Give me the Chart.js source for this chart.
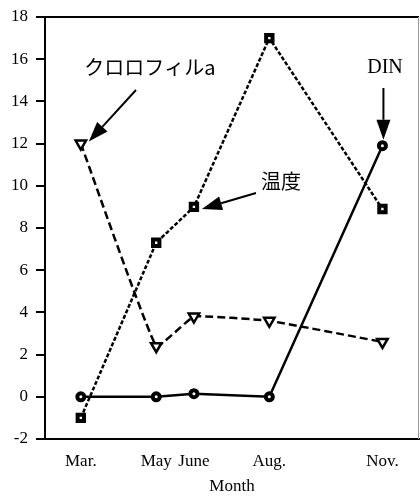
<!DOCTYPE html>
<html>
<head>
<meta charset="utf-8">
<script src="https://cdn.jsdelivr.net/npm/chart.js@4/dist/chart.umd.min.js"></script>
<style>
  html, body { margin: 0; padding: 0; background: #fff; }
  #wrap { width: 420px; height: 497px; }
</style>
</head>
<body>
<div id="wrap"><canvas id="c" width="420" height="497"></canvas></div>
<script>
// Sampling months (month number) and their axis labels
const months = [3, 5, 6, 8, 11];
const monthLabels = ['Mar.', 'May', 'June', 'Aug.', 'Nov.'];

// Measured series
const chlA = [12.0, 2.4, 3.8, 3.6, 2.6];          // クロロフィルa
const temperature = [-1.0, 7.3, 9.0, 17.0, 8.9];  // 温度
const din = [0.0, 0.0, 0.15, 0.0, 11.9];           // DIN

const serif = 'Liberation Serif, Times New Roman, serif';
const jp = '"Noto Sans CJK JP", sans-serif';

const toPoints = vals => months.map((m, i) => ({ x: m, y: vals[i] }));

function arrow(ctx, x0, y0, x1, y1, len, wid) {
  const ang = Math.atan2(y1 - y0, x1 - x0);
  const bx = x1 - len * Math.cos(ang), by = y1 - len * Math.sin(ang);
  ctx.beginPath();
  ctx.moveTo(x0, y0);
  ctx.lineTo(bx, by);
  ctx.stroke();
  const nx = -Math.sin(ang) * wid / 2, ny = Math.cos(ang) * wid / 2;
  ctx.beginPath();
  ctx.moveTo(x1, y1);
  ctx.lineTo(bx + nx, by + ny);
  ctx.lineTo(bx - nx, by - ny);
  ctx.closePath();
  ctx.fill();
}

// Frame and the three callout labels with arrows
const callouts = {
  id: 'callouts',
  afterDatasetsDraw(chart) {
    const { ctx, chartArea: a, scales: { x, y } } = chart;
    ctx.save();
    ctx.strokeStyle = '#000';
    ctx.lineWidth = 2;
    ctx.beginPath();
    ctx.moveTo(a.left, a.top);
    ctx.lineTo(a.right, a.top);
    ctx.stroke();
    ctx.strokeStyle = '#999';
    ctx.lineWidth = 1;
    ctx.beginPath();
    ctx.moveTo(a.right - 0.5, a.top);
    ctx.lineTo(a.right - 0.5, a.bottom);
    ctx.stroke();

    ctx.fillStyle = '#000';
    ctx.strokeStyle = '#000';
    ctx.lineWidth = 2;
    ctx.textAlign = 'center';
    ctx.textBaseline = 'middle';

    // クロロフィルa
    const pc = { x: x.getPixelForValue(months[0]), y: y.getPixelForValue(chlA[0]) };
    ctx.font = '20px ' + jp;
    ctx.fillText('クロロフィルa', 150, 67);
    arrow(ctx, 136, 90, pc.x + 8, pc.y - 2, 20, 14);

    // 温度
    const pt = { x: x.getPixelForValue(months[2]), y: y.getPixelForValue(temperature[2]) };
    ctx.fillText('温度', 281, 181);
    arrow(ctx, 256, 193, pt.x + 8, pt.y + 2, 20, 14);

    // DIN
    const pd = { x: x.getPixelForValue(months[4]), y: y.getPixelForValue(din[4]) };
    ctx.font = '20px ' + serif;
    ctx.fillText('DIN', 385, 68);
    arrow(ctx, pd.x + 1, 88, pd.x + 1, pd.y - 6, 20, 14);
    ctx.restore();
  }
};

new Chart(document.getElementById('c'), {
  type: 'line',
  data: {
    datasets: [
      {
        label: 'クロロフィルa',
        data: toPoints(chlA),
        borderColor: '#000',
        borderWidth: 2.5,
        borderDash: [8, 4],
        tension: 0.1,
        pointStyle: 'triangle',
        rotation: 180,
        pointRadius: 6,
        pointBorderWidth: 2.5,
        pointBackgroundColor: '#fff',
        pointBorderColor: '#000'
      },
      {
        label: '温度',
        data: toPoints(temperature),
        borderColor: '#000',
        borderWidth: 2.5,
        borderDash: [4, 2],
        tension: 0,
        pointStyle: 'rect',
        pointRadius: 4.5,
        pointBorderWidth: 4,
        pointBackgroundColor: '#fff',
        pointBorderColor: '#000'
      },
      {
        label: 'DIN',
        data: toPoints(din),
        borderColor: '#000',
        borderWidth: 2.5,
        tension: 0,
        pointStyle: 'circle',
        pointRadius: 3.5,
        pointBorderWidth: 4,
        pointBackgroundColor: '#fff',
        pointBorderColor: '#000'
      }
    ]
  },
  options: {
    responsive: false,
    animation: false,
    devicePixelRatio: 1,
    layout: { autoPadding: false, padding: { left: 0, top: 17, right: 1, bottom: 0 } },
    plugins: { legend: { display: false }, tooltip: { enabled: false } },
    scales: {
      x: {
        type: 'linear',
        min: 2.05,
        max: 11.97,
        afterFit(scale) {
          scale.height = 58;
          scale.paddingLeft = 0;
          scale.paddingRight = 0;
        },
        afterBuildTicks(scale) { scale.ticks = months.map(v => ({ value: v })); },
        grid: { display: false },
        border: { display: true, color: '#000', width: 2 },
        ticks: {
          autoSkip: false,
          maxRotation: 0,
          padding: 4,
          color: '#000',
          font: { family: serif, size: 17 },
          callback: v => monthLabels[months.indexOf(v)]
        },
        title: {
          display: true,
          text: 'Month',
          color: '#000',
          font: { family: serif, size: 17 },
          padding: { top: 0, bottom: 0 }
        }
      },
      y: {
        min: -2,
        max: 18,
        afterFit(scale) {
          scale.width = 45;
          scale.paddingTop = 0;
          scale.paddingBottom = 0;
        },
        grid: { drawOnChartArea: false, drawTicks: true, tickLength: 9, lineWidth: 2, color: '#000' },
        border: { display: true, color: '#000', width: 2 },
        ticks: {
          stepSize: 2,
          padding: 8,
          color: '#000',
          font: { family: serif, size: 17 }
        }
      }
    }
  },
  plugins: [callouts]
});
</script>
</body>
</html>
